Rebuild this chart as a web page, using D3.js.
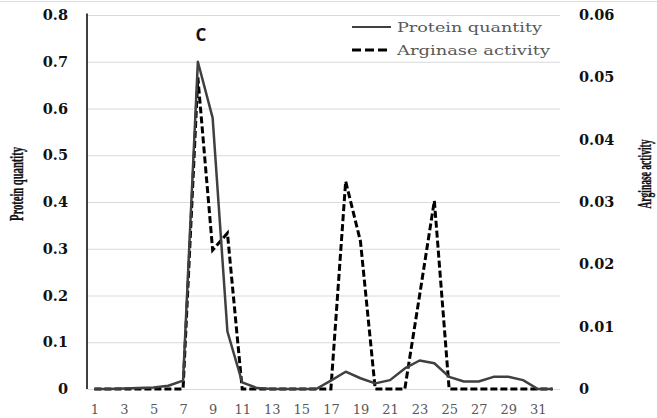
<!DOCTYPE html>
<html>
<head>
<meta charset="utf-8">
<script src="https://cdn.jsdelivr.net/npm/d3@7"></script>
<style>
  html, body { margin: 0; padding: 0; background: #fff; }
  svg { display: block; }
</style>
</head>
<body>
<svg class="chart"></svg>
<script>
const categories = ["1","2","3","4","5","6","7","8","9","10","11","12","13","14","15","16",
  "17","18","19","20","21","22","23","24","25","26","27","28","29","30","31","32"];
const xTickLabels = ["1","3","5","7","9","11","13","15","17","19","21","23","25","27","29","31"];
const proteinQuantity = [0, 0, 0.001, 0.002, 0.003, 0.007, 0.018, 0.70, 0.58, 0.123, 0.014, 0.002,
  0, 0, 0, 0, 0.018, 0.037, 0.023, 0.012, 0.019, 0.044, 0.061, 0.055, 0.026, 0.016, 0.016,
  0.026, 0.026, 0.019, 0, 0];
const arginaseActivity = [0, 0, 0, 0, 0, 0, 0, 0.050, 0.0223, 0.025, 0, 0, 0, 0, 0, 0, 0,
  0.0333, 0.0237, 0, 0, 0, 0.015, 0.0302, 0, 0, 0, 0, 0, 0, 0, 0];
const leftTicks = [0, 0.1, 0.2, 0.3, 0.4, 0.5, 0.6, 0.7, 0.8];
const rightTicks = [0, 0.01, 0.02, 0.03, 0.04, 0.05, 0.06];

const svgWidth = 657, svgHeight = 418;
const plot = { left: 87, right: 560, top: 15, bottom: 389 };

const svg = d3.select('svg.chart')
  .attr('width', svgWidth)
  .attr('height', svgHeight);

// faint frame line at the very top of the picture
svg.append('line')
  .attr('x1', 0).attr('x2', svgWidth)
  .attr('y1', 1.5).attr('y2', 1.5)
  .attr('stroke', '#dcdcdc');

const x = d3.scalePoint()
  .domain(categories)
  .range([plot.left, plot.right])
  .padding(0.5);

const yLeft = d3.scaleLinear()
  .domain([0, 0.8])
  .range([plot.bottom, plot.top]);

const yRight = d3.scaleLinear()
  .domain([0, 0.06])
  .range([plot.bottom, plot.top]);

// gridlines
svg.append('g')
  .attr('transform', `translate(${plot.left}, 0)`)
  .call(d3.axisRight(yLeft).tickValues(leftTicks).tickSize(plot.right - plot.left).tickFormat(''))
  .call(g => g.select('.domain').remove())
  .call(g => g.selectAll('line').attr('stroke', '#d9d9d9').attr('stroke-width', 1));

// left axis labels
svg.append('g')
  .attr('transform', `translate(${plot.left}, 0)`)
  .call(d3.axisLeft(yLeft).tickValues(leftTicks).tickSize(0).tickPadding(19)
    .tickFormat(d => d === 0 ? '0' : d3.format('.1f')(d)))
  .call(g => g.select('.domain').remove())
  .call(g => g.selectAll('text')
    .attr('font-family', '"DejaVu Serif", serif')
    .attr('font-weight', 'bold')
    .attr('font-size', 14.5)
    .attr('fill', '#111'));

// left axis line
svg.append('line')
  .attr('x1', plot.left).attr('x2', plot.left)
  .attr('y1', plot.top - 1.5).attr('y2', plot.bottom)
  .attr('stroke', '#000')
  .attr('stroke-width', 1.5);

// right axis labels
svg.append('g')
  .attr('transform', `translate(${plot.right}, 0)`)
  .call(d3.axisRight(yRight).tickValues(rightTicks).tickSize(0).tickPadding(19)
    .tickFormat(d => d === 0 ? '0' : d3.format('.2f')(d)))
  .call(g => g.select('.domain').remove())
  .call(g => g.selectAll('text')
    .attr('font-family', '"DejaVu Serif", serif')
    .attr('font-weight', 'bold')
    .attr('font-size', 14.5)
    .attr('fill', '#111'));

// bottom axis labels
svg.append('g')
  .attr('transform', `translate(0, ${plot.bottom})`)
  .call(d3.axisBottom(x).tickValues(xTickLabels).tickSize(0).tickPadding(16))
  .call(g => g.select('.domain').remove())
  .call(g => g.selectAll('text')
    .attr('font-family', '"DejaVu Serif", serif')
    .attr('font-size', 13)
    .attr('fill', '#595959'));

// axis titles (condensed bold serif)
const titles = [
  { text: 'Protein quantity', x: 23, y: 184, len: 74 },
  { text: 'Arginase activity', x: 651, y: 174, len: 69 }
];
svg.selectAll('text.axis-title')
  .data(titles)
  .join('text')
  .attr('class', 'axis-title')
  .attr('transform', d => `translate(${d.x}, ${d.y}) rotate(-90)`)
  .attr('text-anchor', 'middle')
  .attr('font-family', '"Liberation Serif", serif')
  .attr('font-weight', 'bold')
  .attr('font-size', 18)
  .attr('textLength', d => d.len)
  .attr('lengthAdjust', 'spacingAndGlyphs')
  .attr('fill', '#111')
  .attr('stroke', '#111')
  .attr('stroke-width', 0.35)
  .text(d => d.text);

// series
const proteinLine = d3.line()
  .x((d, i) => x(categories[i]))
  .y(d => yLeft(d));

const arginaseLine = d3.line()
  .x((d, i) => x(categories[i]))
  .y(d => yRight(d));

svg.append('path')
  .datum(arginaseActivity)
  .attr('fill', 'none')
  .attr('stroke', '#000')
  .attr('stroke-width', 3)
  .attr('stroke-dasharray', '7,3')
  .attr('d', arginaseLine);

svg.append('path')
  .datum(proteinQuantity)
  .attr('fill', 'none')
  .attr('stroke', '#404040')
  .attr('stroke-width', 2.5)
  .attr('stroke-linejoin', 'round')
  .attr('d', proteinLine);

// panel letter
svg.append('text')
  .attr('x', 201)
  .attr('y', 41)
  .attr('text-anchor', 'middle')
  .attr('font-family', '"Open Sans", sans-serif')
  .attr('font-weight', 'bold')
  .attr('font-size', 17)
  .attr('fill', '#111')
  .text('C');

// legend
const legendItems = [
  { name: 'Protein quantity', dash: null, color: '#404040', width: 2.2, y: 27 },
  { name: 'Arginase activity', dash: '9,4', color: '#000', width: 3, y: 50 }
];
const legend = svg.append('g');
legend.selectAll('line')
  .data(legendItems)
  .join('line')
  .attr('x1', 352).attr('x2', 391)
  .attr('y1', d => d.y).attr('y2', d => d.y)
  .attr('stroke', d => d.color)
  .attr('stroke-width', d => d.width)
  .attr('stroke-dasharray', d => d.dash);
legend.selectAll('text')
  .data(legendItems)
  .join('text')
  .attr('x', 397)
  .attr('y', d => d.y + 4.5)
  .attr('font-family', '"DejaVu Serif", serif')
  .attr('font-size', 13.5)
  .attr('fill', '#595959')
  .attr('textLength', d => d.name === 'Protein quantity' ? 145 : 153)
  .attr('lengthAdjust', 'spacingAndGlyphs')
  .text(d => d.name);
</script>
</body>
</html>
